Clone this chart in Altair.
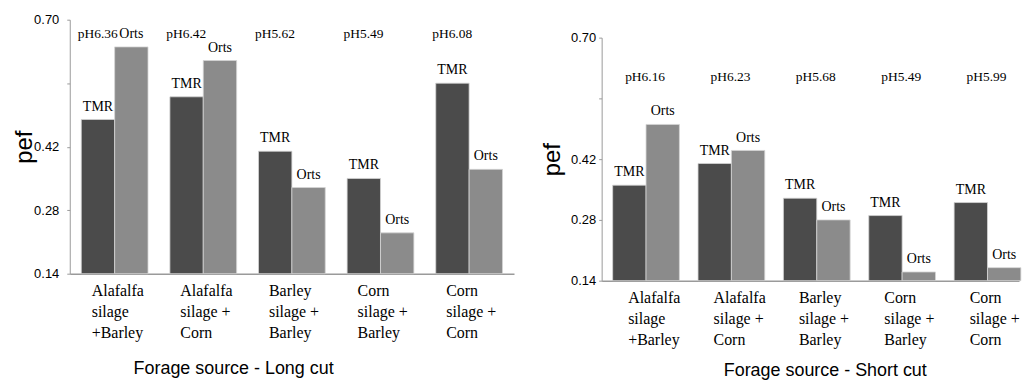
import altair as alt
import pandas as pd

categories = ["Alafalfa|silage|+Barley", "Alafalfa|silage +|Corn", "Barley|silage +|Barley",
              "Corn|silage +|Barley", "Corn|silage +|Corn"]
series = ["TMR", "Orts"]

long_tmr = [0.48, 0.53, 0.41, 0.35, 0.56]
long_orts = [0.64, 0.61, 0.33, 0.23, 0.37]
long_ph = ["pH6.36", "pH6.42", "pH5.62", "pH5.49", "pH6.08"]

short_tmr = [0.36, 0.41, 0.33, 0.29, 0.32]
short_orts = [0.50, 0.44, 0.28, 0.16, 0.17]
short_ph = ["pH6.16", "pH6.23", "pH5.68", "pH5.49", "pH5.99"]

y_ticks = [0.14, 0.28, 0.42, 0.56, 0.70]

SERIF = "Liberation Serif, Times New Roman, serif"
SANS = "Liberation Sans"
AXIS_GREY = "#9a9a9a"


def panel(tmr, orts, ph, ph_level, title, width, height, y_range,
          p_inner, p_outer, align, title_x, title_y, ytitle_x, label_pad, ph_dx, cat_offset):
    rows = []
    for c, t, o in zip(categories, tmr, orts):
        rows.append({"cat": c, "type": "TMR", "value": t})
        rows.append({"cat": c, "type": "Orts", "value": o})
    df = pd.DataFrame(rows)
    ph_df = pd.DataFrame({"cat": categories, "ph": ph, "lvl": [ph_level] * len(ph)})

    x_axis = alt.Axis(
        labelExpr="split(datum.label, '|')", labelAngle=0, labelAlign="left",
        labelBaseline="top", labelOffset=cat_offset, labelPadding=9,
        labelFont=SERIF, labelFontSize=16, labelLineHeight=21, labelColor="black",
        ticks=False, domainColor=AXIS_GREY, domainWidth=1.5,
        title=title, titleFont=SANS, titleFontSize=18, titleFontWeight="normal",
        titleColor="black", titleX=title_x, titleY=title_y,
        titleAlign="center", titleBaseline="middle", titleAnchor="start",
    )
    y_axis = alt.Axis(
        values=y_ticks,
        labelExpr="datum.value == 0.56 ? '' : format(datum.value, '.2f')",
        labelFont=SANS, labelFontSize=13, labelColor="black", labelPadding=label_pad,
        tickSize=3, tickColor=AXIS_GREY, domainColor=AXIS_GREY, grid=False,
        title="pef", titleFont=SANS, titleFontSize=24, titleFontWeight="normal",
        titleColor="black", titleAngle=-90, titleX=ytitle_x,
        titleY=(y_range[0] + y_range[1]) / 2,
        titleAlign="center", titleBaseline="middle", titleAnchor="start",
    )
    yscale = alt.Scale(domain=[0.14, 0.70], zero=False, nice=False, range=y_range)
    xscale = alt.Scale(paddingInner=p_inner, paddingOuter=p_outer, align=align)
    x = alt.X("cat:N", sort=categories, scale=xscale, axis=x_axis)
    xo = alt.XOffset("type:N", sort=series, scale=alt.Scale(paddingInner=0, paddingOuter=0))

    bars = alt.Chart(df).mark_bar(stroke="#d4d4d4", strokeWidth=0.8).encode(
        x=x, xOffset=xo,
        y=alt.Y("value:Q", scale=yscale, axis=y_axis),
        y2=alt.datum(0.14),
        color=alt.Color("type:N", scale=alt.Scale(domain=series, range=["#4b4b4b", "#8b8b8b"]),
                        legend=None),
    )
    labels = alt.Chart(df).mark_text(baseline="bottom", dy=-6, font=SERIF, fontSize=14,
                                     color="black").encode(
        x=alt.X("cat:N", sort=categories), xOffset=alt.XOffset("type:N", sort=series),
        y=alt.Y("value:Q"), text="type:N",
    )
    phs = alt.Chart(ph_df).mark_text(baseline="middle", dx=ph_dx, font=SERIF, fontSize=13.5,
                                     color="black").encode(
        x=alt.X("cat:N", sort=categories), y=alt.Y("lvl:Q"), text="ph:N",
    )
    return alt.layer(bars, labels, phs).properties(width=width, height=height)


left = panel(long_tmr, long_orts, long_ph, 0.669, "Forage source - Long cut",
             446, 255, [255, 0], 0.247, 0.13, 0.5, 164, 95, -45, 8, -17, -23)
right = panel(short_tmr, short_orts, short_ph, 0.61, "Forage source - Short cut",
              419, 262, [262, 18], 0.24, 0.0645, 1.0, 224, 90, -49, 3, 0, -17)

chart = alt.hconcat(left, right, spacing=27).configure_view(stroke=None).properties(
    padding={"left": 5, "top": 5, "right": 0, "bottom": 5}, background="white")

chart.save("out.html", embed_options={"renderer": "svg", "actions": False})
